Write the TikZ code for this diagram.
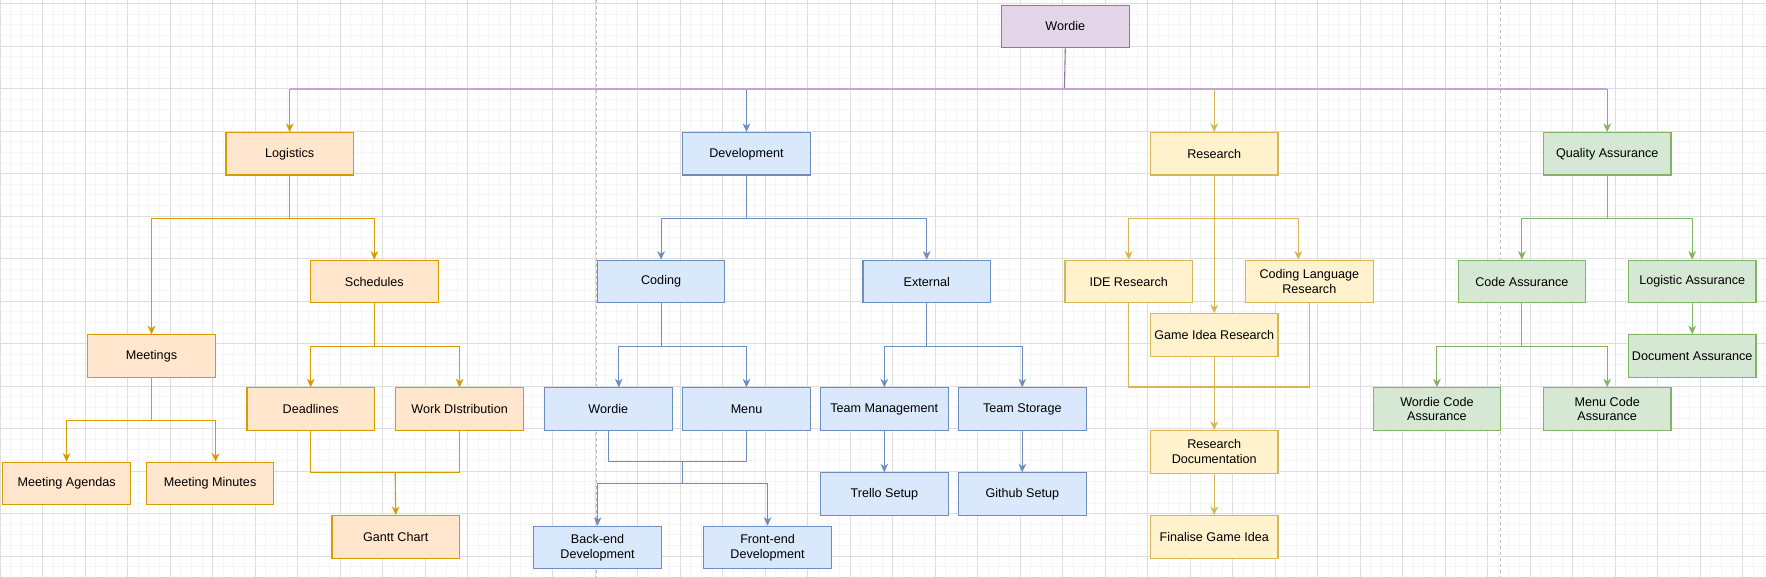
\documentclass[tikz,border=0pt]{standalone}
\usepackage{fontspec}
\setmainfont{Liberation Sans}
\usetikzlibrary{arrows.meta}
\definecolor{oF}{HTML}{FFE6CC}\definecolor{oS}{HTML}{D79B00}
\definecolor{bF}{HTML}{DAE8FC}\definecolor{bS}{HTML}{6C8EBF}
\definecolor{yF}{HTML}{FFF2CC}\definecolor{yS}{HTML}{D6B656}
\definecolor{gF}{HTML}{D5E8D4}\definecolor{gS}{HTML}{82B366}
\definecolor{pF}{HTML}{E1D5E7}\definecolor{pS}{HTML}{9673A6}
\definecolor{pL}{HTML}{BFA8CE}
\definecolor{gridminor}{HTML}{F5F5F5}
\definecolor{gridmajor}{HTML}{DEDEDE}
\definecolor{pagecol}{HTML}{BDBDBD}
\begin{document}
\begin{tikzpicture}[x=1pt,y=-1pt,
  box/.style={draw, rectangle, minimum width=127.5pt, minimum height=42.5pt, inner sep=0pt,
    line width=1.1pt, anchor=north west, align=center, text=black,
    font=\fontsize{12.6}{14.7}\selectfont},
  obox/.style={box, fill=oF, draw=oS},
  bbox/.style={box, fill=bF, draw=bS},
  ybox/.style={box, fill=yF, draw=yS},
  gbox/.style={box, fill=gF, draw=gS},
  pbox/.style={box, fill=pF, draw=pS},
  tipped/.style={-{Stealth[length=8.5pt,width=7.6pt,inset=2.5pt]}},
  oe/.style={draw=oS, line width=1.1pt}, oa/.style={oe, tipped},
  be/.style={draw=bS, line width=1.1pt}, ba/.style={be, tipped},
  ye/.style={draw=yS, line width=1.1pt}, ya/.style={ye, tipped},
  ge/.style={draw=gS, line width=1.1pt}, ga/.style={ge, tipped},
  gminor/.style={draw=gridminor, line width=0.6pt},
  gmajor/.style={draw=gridmajor, line width=0.8pt},
  pageline/.style={draw=pagecol, line width=0.8pt, dash pattern=on 3pt off 3pt}
]
\useasboundingbox (0,0) rectangle (1766,577);
\fill[white] (0,0) rectangle (1766,577);
% grid
\foreach \i in {0,...,166} \draw[gminor] ({\i*10.625},0) -- ({\i*10.625},577);
\foreach \j in {0,...,54} \draw[gminor] (0,{3.5+\j*10.625}) -- (1766,{3.5+\j*10.625});
\foreach \i in {0,...,41} \draw[gmajor] ({\i*42.5},0) -- ({\i*42.5},577);
\foreach \j in {0,...,13} \draw[gmajor] (0,{3.5+\j*42.5}) -- (1766,{3.5+\j*42.5});
\draw[pageline] (596,0) -- (596,577);
\draw[pageline] (1500,0) -- (1500,577);

% nodes
\node[pbox] (root) at (1001,4.7) {Wordie};
\node[obox] (logi) at (225.4,132) {Logistics};
\node[bbox] (dev) at (682.2,132) {Development};
\node[ybox] (res) at (1149.9,132) {Research};
\node[gbox] (qa) at (1542.9,132) {Quality Assurance};

\node[obox] (sched) at (310,259.7) {Schedules};
\node[obox] (meet) at (87.2,334.3) {Meetings};
\node[obox] (agenda) at (2.3,461.7) {Meeting Agendas};
\node[obox] (minutes) at (145.8,461.7) {Meeting Minutes};
\node[obox] (dead) at (246.4,387.3) {Deadlines};
\node[obox] (work) at (395.3,387.3) {Work DIstribution};
\node[obox] (gantt) at (331.4,515) {Gantt Chart};

\node[bbox] (coding) at (596.8,259.7) {Coding};
\node[bbox] (ext) at (862.4,259.7) {External};
\node[bbox] (wordie) at (544,387.3) {Wordie};
\node[bbox] (menu) at (682.2,387.3) {Menu};
\node[bbox] (back) at (533.3,525.7) {Back-end\\Development};
\node[bbox] (front) at (703.3,525.7) {Front-end\\Development};
\node[bbox] (tm) at (820,387.3) {Team Management};
\node[bbox] (ts) at (958,387.3) {Team Storage};
\node[bbox] (trello) at (820,472.3) {Trello Setup};
\node[bbox] (github) at (958,472.3) {Github Setup};

\node[ybox] (ide) at (1064.4,259.7) {IDE Research};
\node[ybox] (clr) at (1245,259.7) {Coding Language\\Research};
\node[ybox] (game) at (1149.9,313.3) {Game Idea Research};
\node[ybox] (rdoc) at (1149.9,430) {Research\\Documentation};
\node[ybox] (fgi) at (1149.9,515) {Finalise Game Idea};

\node[gbox] (ca) at (1457.6,259.7) {Code Assurance};
\node[gbox] (la) at (1627.9,259.7) {Logistic Assurance};
\node[gbox] (da) at (1627.9,334.3) {Document Assurance};
\node[gbox] (wca) at (1372.6,387.3) {Wordie Code\\Assurance};
\node[gbox] (mca) at (1542.9,387.3) {Menu Code\\Assurance};

% root connectors
\coordinate (hub) at (1064.4,89.3);
\draw[draw=pS, line width=1.1pt] (root.south) -- (hub);
\draw[oa] (logi.north |- hub) -- (logi.north);
\draw[ba] (dev.north |- hub) -- (dev.north);
\draw[ya] (res.north |- hub) -- (res.north);
\draw[ga] (qa.north |- hub) -- (qa.north);
\draw[draw=pL, line width=1.8pt] (logi.north |- hub) -- (qa.north |- hub);

% logistics
\draw[oa] (logi.south) -- ++(0,42.8) -| (sched.north);
\draw[oa] (logi.south) -- ++(0,42.8) -| (meet.north);
\draw[oa] (meet.south) -- ++(0,42.5) -| (agenda.north);
\draw[oa] (meet.south) -- ++(0,42.5) -| ([xshift=5.5pt]minutes.north);
\draw[oa] (sched.south) -- ++(0,42.8) -| (dead.north);
\draw[oa] (sched.south) -- ++(0,42.8) -| (work.north);
\coordinate (gbar) at (395.2,472.3);
\draw[oe] (dead.south) |- (gbar) -| (work.south);
\draw[oa] (gbar) -- (gantt.north);

% development
\draw[ba] (dev.south) -- ++(0,42.8) -| (coding.north);
\draw[ba] (dev.south) -- ++(0,42.8) -| (ext.north);
\draw[ba] (coding.south) -- ++(0,42.8) -| ([xshift=10.5pt]wordie.north);
\draw[ba] (coding.south) -- ++(0,42.8) -| (menu.north);
\coordinate (wm) at (682.3,461.7);
\coordinate (wm2) at (682.3,483.3);
\draw[be] (wordie.south) |- (wm) -| (menu.south);
\draw[be] (wm) -- (wm2);
\draw[ba] (wm2) -| (back.north);
\draw[ba] (wm2) -| (front.north);
\draw[ba] (ext.south) -- ++(0,42.8) -| (tm.north);
\draw[ba] (ext.south) -- ++(0,42.8) -| (ts.north);
\draw[ba] (tm.south) -- (trello.north);
\draw[ba] (ts.south) -- (github.north);

% research
\draw[ya] (res.south) -- ++(0,42.8) -| (ide.north);
\draw[ya] (res.south) -- ++(0,42.8) -| ([xshift=-11pt]clr.north);
\draw[ya] (res.south) -- (game.north);
\coordinate (rbar) at (1213.6,387);
\draw[ye] (ide.south) |- (rbar) -| (clr.south);
\draw[ya] (game.south) -- (rdoc.north);
\draw[ya] (rdoc.south) -- (fgi.north);

% quality assurance
\draw[ga] (qa.south) -- ++(0,42.8) -| (ca.north);
\draw[ga] (qa.south) -- ++(0,42.8) -| (la.north);
\draw[ga] (la.south) -- (da.north);
\draw[ga] (ca.south) -- ++(0,42.8) -| (wca.north);
\draw[ga] (ca.south) -- ++(0,42.8) -| (mca.north);
\end{tikzpicture}
\end{document}
